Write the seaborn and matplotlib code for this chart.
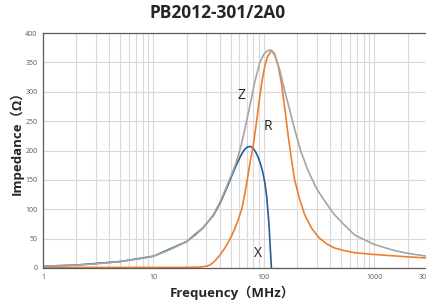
import matplotlib
matplotlib.use("Agg")
import matplotlib.pyplot as plt
import seaborn as sns

# impedance curves (MHz, ohm)
z_freq = [1, 2, 3, 5, 7, 10, 14, 20, 24, 28, 31, 35, 41, 47, 52, 55, 59, 63, 68, 75, 83, 92, 100, 108, 116, 125, 140, 155, 172, 190, 215, 252, 300, 356, 430, 505, 666, 1000, 1500, 2000, 3000]
z_vals = [3, 5, 7, 11, 15, 20, 31, 45, 56, 68, 78, 91, 116, 143, 163, 175, 193, 213, 240, 278, 318, 350, 364, 370, 371, 365, 335, 300, 268, 236, 200, 165, 135, 114, 92, 78, 56, 40, 30, 25, 20]

r_freq = [1, 20, 26, 30, 32.5, 36, 40, 44, 49, 54, 58.5, 63, 67, 71, 75, 80, 86, 92, 97, 102, 108, 117, 126, 135, 145, 155, 166, 180, 190, 210, 235, 270, 310, 370, 437, 550, 666, 1000, 2000, 3000]
r_vals = [1, 1, 1.5, 3, 5, 12, 22, 33, 48, 65, 82, 100, 125, 152, 180, 208, 250, 293, 322, 344, 360, 370, 362, 344, 312, 270, 225, 178, 150, 118, 90, 68, 53, 41, 34, 29, 26, 23, 19, 17]

x_freq = [1, 2, 5, 10, 20, 28, 35, 41, 47, 52, 58.5, 63, 67, 71, 75, 80, 85, 89, 94, 98, 102, 106, 111, 115, 117]
x_vals = [3, 5, 11, 20, 45, 68, 90, 114, 140, 160, 182, 194, 202, 206, 207, 204, 196, 188, 175, 162, 145, 122, 77, 25, 0]

x_ticks = [1, 10, 100, 1000, 3000]
y_ticks = [0, 50, 100, 150, 200, 250, 300, 350, 400]

sns.set_style("white")
plt.rcParams['font.family'] = ['Open Sans', 'Noto Sans CJK SC', 'DejaVu Sans']

fig = plt.figure(figsize=(4.26, 3.02), dpi=100)
ax = fig.add_axes([43/426, 1-268/302, 384/426, 235/302])

# gridlines
for v in y_ticks:
    ax.axhline(v, color='#D9D9D9', lw=0.8, zorder=0)
minor = [m * 10**d for d in range(0, 4) for m in range(1, 10) if m * 10**d <= 3000]
for v in minor:
    ax.axvline(v, color='#D9D9D9', lw=0.8, zorder=0)

sns.lineplot(x=x_freq, y=x_vals, color='#255E91', lw=1.2, ax=ax, sort=False)
sns.lineplot(x=r_freq, y=r_vals, color='#ED7D31', lw=1.2, ax=ax, sort=False)
sns.lineplot(x=z_freq, y=z_vals, color='#A5A5A5', lw=1.2, ax=ax, sort=False)

ax.set_xscale('log')
ax.set_xlim(1, 3000)
ax.set_ylim(0, 400)
ax.set_xticks(x_ticks)
ax.set_xticklabels([str(t) for t in x_ticks])
ax.xaxis.set_minor_locator(matplotlib.ticker.NullLocator())
ax.set_yticks(y_ticks)
ax.tick_params(labelsize=5, colors='#595959', length=0, pad=4)

for s in ['left', 'bottom', 'top']:
    ax.spines[s].set_color('#595959')
    ax.spines[s].set_linewidth(0.9)
ax.spines['right'].set_visible(False)

ax.text(62, 293, 'Z', fontsize=10, ha='center', va='center')
ax.text(109, 241, 'R', fontsize=10, ha='center', va='center')
ax.text(89, 24, 'X', fontsize=10, ha='center', va='center')

fig.text(218/426, 1-13/302, 'PB2012-301/2A0', fontsize=12.5, fontweight='bold', ha='center', va='center')
fig.text(232/426, 1-293/302, 'Frequency（MHz）', fontsize=9.5, fontweight='bold', ha='center', va='center')
fig.text(17/426, 1-140/302, 'Impedance（Ω）', fontsize=9.5, fontweight='bold', ha='center', va='center', rotation=90)

fig.savefig('out.png', dpi=100)
